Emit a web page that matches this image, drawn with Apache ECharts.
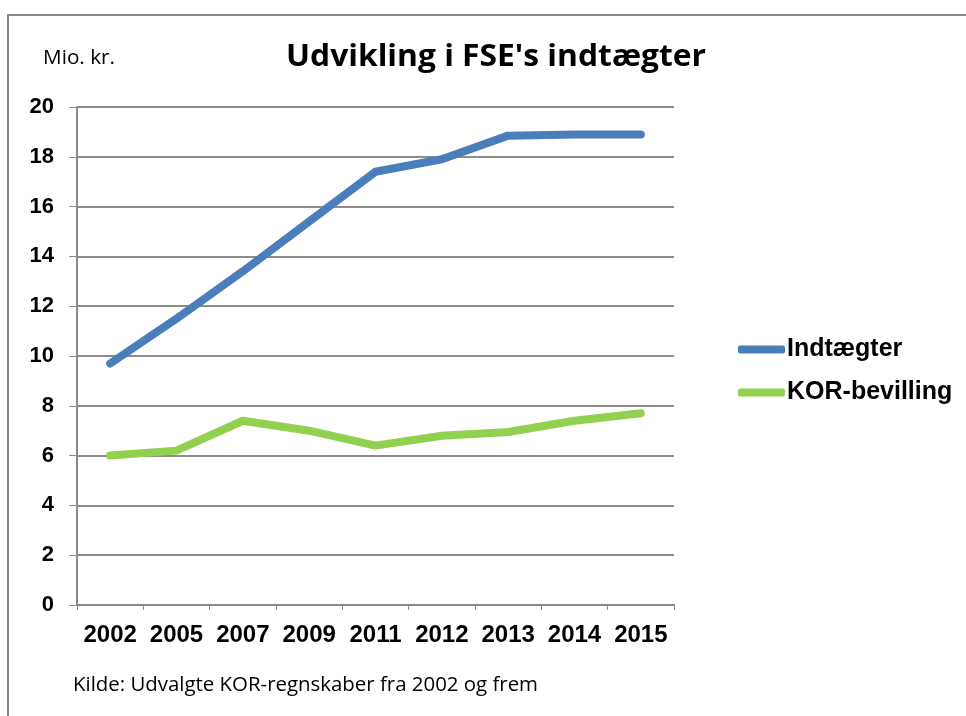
<!DOCTYPE html>
<html>
<head>
<meta charset="utf-8">
<script src="https://cdn.jsdelivr.net/npm/echarts@6/dist/echarts.min.js"></script>
<style>
  html, body { margin: 0; padding: 0; background: #fff; }
  #chart { width: 966px; height: 716px; }
</style>
</head>
<body>
<div id="chart"></div>
<script>
// data (Mio. kr.)
const years = ['2002', '2005', '2007', '2009', '2011', '2012', '2013', '2014', '2015'];
const indtaegter = [9.7, 11.5, 13.4, 15.4, 17.4, 17.9, 18.85, 18.9, 18.9];
const korBevilling = [6.0, 6.2, 7.4, 7.0, 6.4, 6.8, 6.95, 7.4, 7.7];
const seriesNames = ['Indtægter', 'KOR-bevilling'];

const titleText = "Udvikling i FSE's indtægter";
const unitText = 'Mio. kr.';
const sourceText = 'Kilde: Udvalgte KOR-regnskaber fra 2002 og frem';

// squeeze a text to a given width (the original uses a narrow font)
const ctx = document.createElement('canvas').getContext('2d');
function fit (text, font, width) {
  ctx.font = font;
  return width / ctx.measureText(text).width;
}

const titleFont = 'bold 31px "Open Sans"';
const smallFont = '20px "Open Sans"';

const chart = echarts.init(document.getElementById('chart'));
const option = {
  animation: false,
  backgroundColor: '#fff',
  grid: { left: 77, right: 292, top: 107, bottom: 111 },
  legend: {
    orient: 'vertical',
    left: 738,
    top: 337,
    padding: 0,
    itemWidth: 47,
    itemHeight: 8,
    itemGap: 18,
    icon: 'roundRect',
    textStyle: { fontFamily: 'Liberation Sans', fontWeight: 'bold', fontSize: 25, color: '#000', padding: [0, 0, 0, -3] },
    data: seriesNames
  },
  xAxis: {
    type: 'category',
    data: years,
    boundaryGap: true,
    axisLine: { lineStyle: { color: '#8a8a8a', width: 2 } },
    axisTick: { show: true, length: 5, lineStyle: { color: '#8a8a8a', width: 1 } },
    axisLabel: { fontFamily: 'Liberation Sans', fontWeight: 'bold', fontSize: 24, color: '#000', margin: 18, interval: 0 }
  },
  yAxis: {
    type: 'value',
    min: 0,
    max: 20,
    interval: 2,
    axisLine: { show: true, lineStyle: { color: '#8a8a8a', width: 2 } },
    axisTick: { show: true, length: 8, lineStyle: { color: '#8a8a8a', width: 1 } },
    axisLabel: { fontFamily: 'Liberation Sans', fontWeight: 'bold', fontSize: 22, color: '#000', margin: 23 },
    splitLine: { lineStyle: { color: '#8c8c8c', width: 2 } }
  },
  series: [
    {
      name: seriesNames[0],
      type: 'line',
      data: indtaegter,
      symbol: 'none',
      itemStyle: { color: '#4a7ebb' },
      lineStyle: { color: '#4a7ebb', width: 8, cap: 'round', join: 'round' }
    },
    {
      name: seriesNames[1],
      type: 'line',
      data: korBevilling,
      symbol: 'none',
      itemStyle: { color: '#92d050' },
      lineStyle: { color: '#92d050', width: 8, cap: 'round', join: 'round' }
    }
  ],
  graphic: [
    {
      type: 'rect',
      shape: { x: 8, y: 15, width: 980, height: 720 },
      style: { fill: 'none', stroke: '#888', lineWidth: 2 },
      silent: true
    },
    {
      type: 'text',
      x: 286, y: 57,
      scaleX: fit(titleText, titleFont, 420),
      style: { text: titleText, font: titleFont, fill: '#000', verticalAlign: 'middle' }
    },
    {
      type: 'text',
      x: 43, y: 58,
      scaleX: fit(unitText, smallFont, 72),
      style: { text: unitText, font: smallFont, fill: '#000', verticalAlign: 'middle' }
    },
    {
      type: 'text',
      x: 73, y: 685,
      scaleX: fit(sourceText, smallFont, 465),
      style: { text: sourceText, font: smallFont, fill: '#000', verticalAlign: 'middle' }
    }
  ]
};
chart.setOption(option);
</script>
</body>
</html>
